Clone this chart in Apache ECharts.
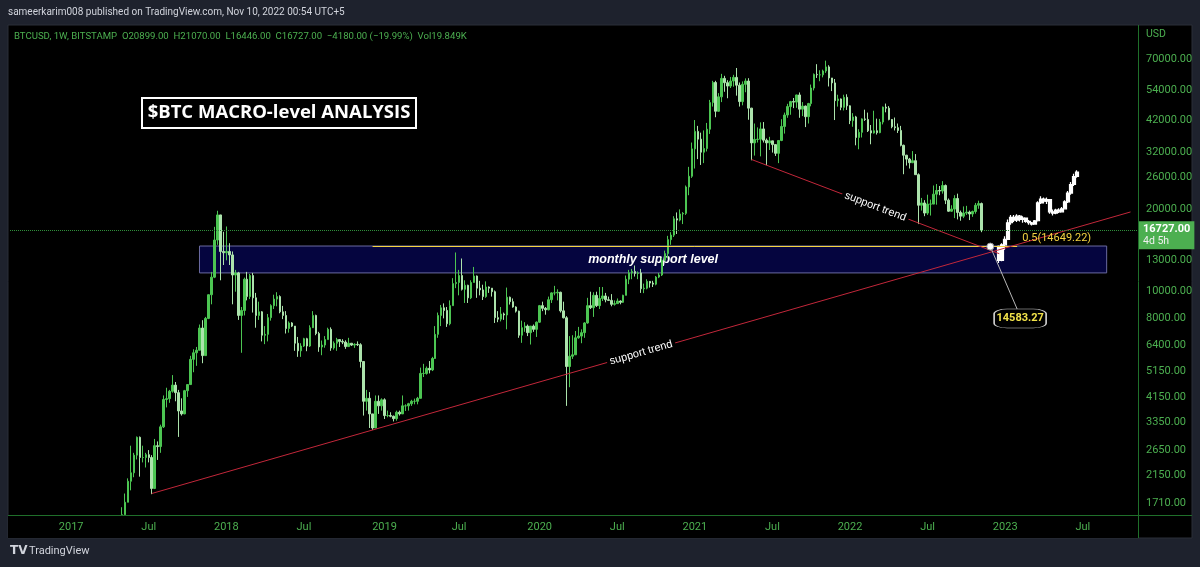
<!DOCTYPE html>
<html><head><meta charset="utf-8">
<script src="https://cdn.jsdelivr.net/npm/echarts/dist/echarts.min.js"></script>
<style>html,body{margin:0;padding:0;background:#1e222d;overflow:hidden}#c{width:1200px;height:567px}</style>
</head><body><div id="c"></div>
<script>
// ---------- axis ----------
const axisStart = '2016-08-15';
const axisWeeks = 378;
const yTicks = [70000, 54000, 42000, 32000, 26000, 20000, 13000, 10000, 8000, 6400, 5150, 4150, 3350, 2650, 2150, 1710];
const xTickDates  = ['2017-01-02','2017-07-03','2018-01-01','2018-07-02','2019-01-07','2019-07-01','2020-01-06','2020-07-06','2021-01-04','2021-07-05','2022-01-03','2022-07-04','2023-01-02','2023-07-03'];
const xTickLabels = ['2017','Jul','2018','Jul','2019','Jul','2020','Jul','2021','Jul','2022','Jul','2023','Jul'];

// ---------- weekly candles: [close, high, low]; open = previous close ----------
const firstOpen = 1250;
const w2017 = [ // from 2017-04-24
 [1340,1350,1240],[1550,1650,1340],[1720,1850,1550],[2050,2100,1720],[2200,2760,1900],[2550,2600,2120],
 [2960,2980,2460],[2500,2980,2130],[2500,2760,2400],[2560,2600,2300],[2500,2660,2400],[1930,2550,1840],
 [2760,2920,1920],[2740,2860,2450],[3230,3290,2600],[4060,4200,3200],[4090,4480,3800],[4350,4400,3950],
 [4580,4980,4300],[4300,4700,4000],[3690,4400,2970],[3600,4100,3550],[4370,4400,3590],[4600,4620,4150],
 [5680,5850,4600],[6000,6180,5100],[6130,6300,5380],[7380,7600,6130],[5860,7880,5500],[8000,8100,5860],
 [9750,9770,7950],[11290,11800,9000],[15400,17200,11200],[19000,19670,14800],[14000,18900,11000],[13850,16500,12500]];
const w2018 = [ // from 2018-01-01
 [14000,17250,13000],[13600,15000,12500],[11500,14000,9000],[11700,12000,10000],[8200,11800,7900],[8550,8800,6000],
 [11100,11250,8200],[9600,11800,9300],[11450,11600,9400],[9500,11700,8400],[8200,9900,7400],[8450,9200,7900],
 [6950,8500,6600],[7000,7500,6450],[8050,8300,6600],[8900,9000,7850],[9400,9750,8650],[9600,9960,8850],
 [8450,9700,8350],[8200,8880,7950],[7350,8500,7050],[7700,7800,7100],[7500,7750,7440],[6500,7000,6100],
 [6100,6850,5800],[6350,6500,5800],[6750,6800,6300],[6350,6800,6080],[7400,7550,6300],[8200,8500,7450],
 [7050,8250,6950],[6300,7150,6050],[6400,6650,5880],[6700,6900,6260],[7300,7400,6700],[6250,7420,6100],
 [6500,6600,6160],[6700,6800,6100],[6600,6720,6300],[6560,6720,6450],[6320,6660,6200],[6500,6800,6400],
 [6400,6500,6350],[6440,6500,6250],[6420,6600,6350],[5580,6500,5300],[4000,5600,3550],[4100,4400,3700],
 [3600,4320,3200],[3200,3600,3150],[4000,4200,3200],[3850,4200,3600]];
const w2019 = [ // from 2018-12-31
 [4050,4100,3700],[3550,4100,3450],[3550,3700,3500],[3530,3650,3500],[3460,3550,3380],[3650,3700,3400],
 [3600,3700,3550],[3850,4200,3600],[3850,3900,3690],[3920,3950,3700],[4000,4050,3850],[4000,4090,3900],
 [4100,4150,3900],[5050,5300,4100],[5050,5470,4900],[5270,5350,5000],[5200,5600,5050],[5720,5800,5150],
 [7000,7500,5700],[8200,8400,6800],[8740,8950,7500],[8550,9070,8000],[7650,8800,7450],[8900,9300,7550],
 [10700,11200,8900],[10800,13880,10300],[11450,12000,9700],[10200,13200,10100],[10550,11000,9100],[9500,10600,9100],
 [10800,11000,9400],[11400,12300,10800],[10300,11450,9500],[10150,10950,9700],[9600,10600,9330],[10400,10900,9500],
 [10300,10450,9900],[10000,10300,9600],[8050,10100,7700],[7950,8500,7750],[8300,8800,7800],[8230,8400,7900],
 [9550,10350,7300],[9200,9600,8980],[8800,9450,8750],[8500,8850,8400],[6950,8530,6800],[7400,7850,6520],
 [7500,7750,7150],[7100,7600,6900],[7500,7500,6430],[7300,7600,7150]];
const w2020 = [ // from 2019-12-30
 [7750,7800,6850],[8900,8950,7700],[8700,9200,8500],[8600,8800,8250],[9350,9600,8550],[9900,9950,9100],
 [9900,10500,9700],[9950,10200,9300],[8520,10000,8400],[8040,9200,8000],[5350,8150,3850],[5830,6900,4500],
 [5900,6950,5700],[6800,7200,5900],[6900,7450,6750],[7100,7300,6500],[7700,7750,6800],[8900,9500,7650],
 [8750,10000,8650],[9700,9950,8100],[8900,10000,8800],[9450,10400,8650],[9650,10400,9250],[9350,9900,9150],
 [9300,9600,9250],[9000,9800,8850],[9050,9300,8900],[9250,9450,9050],[9150,9300,9000],[9700,9750,9100],
 [11100,11450,9700],[11700,12000,10650],[11850,12100,11100],[11650,12450,11350],[11700,11850,11100],[10250,12100,9900],
 [10300,10700,9880],[10900,11100,10200],[10750,10850,10350],[10650,10950,10400],[11300,11400,10550],[11500,11700,11200],
 [13000,13300,11400],[13750,14100,12900],[15450,15950,13200],[16050,16450,14800],[18400,18800,15800],[18200,19400,16200],
 [19150,19900,18000],[19250,19450,17600],[24000,24300,19000],[26250,28400,22400],[33000,34800,25900]];
const w2021 = [ // from 2021-01-04
 [38200,42000,28000],[35800,40000,30300],[32100,37800,28850],[33100,38500,29300],[38900,41000,32300],[48600,49700,37400],
 [57500,58300,47000],[45200,58300,43000],[51000,52600,45000],[59500,61800,48800],[57400,60800,53200],[55800,58600,50400],
 [58200,60200,54900],[60000,61300,55500],[56200,64900,51500],[49000,57500,47000],[56600,58000,47500],[58200,59500,53000],
 [46400,59600,42100],[34700,46500,30000],[35700,40800,31200],[35800,39500,34800],[39000,41200,31000],[35500,41300,34800],
 [34700,36000,28800],[35300,36500,32700],[34200,35300,32000],[31800,34000,31100],[35400,35500,29300],[39800,42300,35200],
 [43800,44700,37500],[47000,48100,42800],[49000,49300,43900],[48800,50500,46400],[51800,51900,46500],[46000,52900,42800],
 [47200,48800,43400],[43200,47400,39600],[48200,48500,40800],[54900,56500,47100],[61500,62000,53800],[61300,67000,59700],
 [61300,63700,58100],[63300,64000,60000],[65500,69000,62300],[59700,66400,55600],[57300,59400,53500],[49400,59200,42000],
 [50100,51900,47000],[46700,50300,45600],[50800,51900,45500],[47300,52100,45700]];
const w2022 = [ // from 2022-01-03
 [41800,47500,40600],[43100,44500,39700],[36300,43500,34000],[37900,38900,32900],[42400,42600,36300],[42200,45800,41700],
 [38400,44700,38000],[37700,40300,34300],[38400,45400,37500],[37800,42500,37200],[41300,42400,37600],[46800,47000,40500],
 [46400,48200,44800],[42200,47200,41900],[39700,41500,39200],[39400,42900,38500],[38500,40800,37700],[34000,40000,33700],
 [31300,34200,26700],[30300,31400,28700],[29400,30600,28000],[29900,32400,29300],[26600,31600,26600],[20600,26900,17600],
 [21000,21900,19700],[19300,21500,18800],[20800,22500,19000],[20800,21600,18900],[22600,24300,20800],[23300,24600,20700],
 [23200,24200,22400],[24300,25200,22700],[21500,24500,20800],[19600,21800,19500],[19950,20600,19500],[21800,22400,18500],
 [19400,22700,18300],[18800,19700,18100],[19300,20400,18500],[19450,20500,19000],[19150,19700,18200],[19550,19700,18700],
 [20600,21000,19200],[20899,21400,20000],[16727,21070,16446]];
const blockStarts = ['2017-04-24','2018-01-01','2018-12-31','2019-12-30','2021-01-04','2022-01-03'];
const blocks = [w2017, w2018, w2019, w2020, w2021, w2022];

// projected path (white bars pattern): [open, close, low, high], weekly from 2022-12-19
const projStart = '2022-12-19';
const projection = [
 [14600,13000,12700,14700],[13000,14800,12900,15000],[14800,15500,14200,15900],[15500,17800,15400,18300],
 [17800,18600,17500,19000],[18600,18200,17900,19000],[18200,18800,17900,19100],[18800,18300,18000,19000],
 [18300,18500,17800,18800],[18500,18000,17800,18600],[18000,17800,17500,18200],[17800,17600,17400,17900],
 [17600,18100,17500,18200],[18100,21000,18000,21300],[21000,21700,20800,22200],[21700,21300,20900,22000],
 [21300,21600,20800,22000],[21600,19500,19200,21700],[19500,19300,18900,19900],[19300,19800,19100,20000],
 [19800,19500,19300,20100],[19500,20000,19400,20300],[20000,21200,19900,21500],[21200,22800,21000,23200],
 [22800,24500,22500,25000],[24500,26200,24200,26800],[26200,27200,25900,27600]];

// drawings
const lastPrice = 16727;
const fibLevel = 14649.22;
const supportZone = [14650, 11700];
const trendUp = [['2017-07-10', 1850], ['2023-10-23', 19480]];
const trendDown = [['2021-05-17', 30200], ['2022-12-19', 13740]];
const calloutPoint = ['2022-11-28', 14583.27];
const calloutEnd = ['2023-01-30', 8650];
const calloutBox = ['2023-02-06', 7990];

const headerText = 'sameerkarim008 published on TradingView.com, Nov 10, 2022 00:54 UTC+5';
const legendText = 'BTCUSD, 1W, BITSTAMP  O20899.00  H21070.00  L16446.00  C16727.00  \u22124180.00 (\u221219.99%)  Vol19.849K';

// ---------- build ----------
function addDays(s, d) { const t = new Date(s + 'T00:00:00Z'); t.setUTCDate(t.getUTCDate() + d); return t.toISOString().slice(0, 10); }
const categories = [];
for (let i = 0; i < axisWeeks; i++) categories.push(addDays(axisStart, 7 * i));
const idx = {}; categories.forEach((c, i) => idx[c] = i);

const candles = categories.map(() => '-');
let prevClose = firstOpen;
blocks.forEach((rows, b) => {
  const i0 = idx[blockStarts[b]];
  rows.forEach((r, j) => { candles[i0 + j] = [prevClose, r[0], r[2], r[1]]; prevClose = r[0]; });
});
const projData = categories.map(() => '-');
const p0 = idx[projStart];
projection.forEach((r, j) => { projData[p0 + j] = r; });

const green = '#4caf50';
const trendLabel = { show: true, position: 'middle', formatter: 'support trend', color: '#fff', fontSize: 11, backgroundColor: '#000',
  padding: [1, 3], distance: 0, verticalAlign: 'middle', fontFamily: 'Liberation Sans' };
const chart = echarts.init(document.getElementById('c'), null, { renderer: 'canvas' });
chart.setOption({
  backgroundColor: '#1e222d',
  animation: false,
  textStyle: { fontFamily: 'Roboto' },
  grid: { left: 10, top: 25, width: 1128, height: 490 },
  xAxis: {
    type: 'category', data: categories, boundaryGap: true, zlevel: 2,
    axisLine: { show: false }, axisTick: { show: false }, splitLine: { show: false },
    axisLabel: {
      interval: (i, v) => xTickDates.indexOf(v) >= 0,
      formatter: v => { const k = xTickDates.indexOf(v); return k >= 0 ? xTickLabels[k] : ''; },
      color: green, fontSize: 11, margin: 7
    }
  },
  yAxis: {
    type: 'log', logBase: 10, min: 1546, max: 92970, position: 'right',
    axisLine: { show: false }, axisTick: { show: false }, axisLabel: { show: false }, splitLine: { show: false }
  },
  graphic: [
    { type: 'rect', z: -100, silent: true, shape: { x: 8, y: 25, width: 1184, height: 513 }, style: { fill: '#000', stroke: '#2a2e39', lineWidth: 1 } },
    { type: 'rect', zlevel: 1, z: 1, silent: true, shape: { x: 8, y: 516, width: 1130, height: 22 }, style: { fill: '#000' } },
    { type: 'line', zlevel: 1, z: 5, silent: true, shape: { x1: 1138.5, y1: 25, x2: 1138.5, y2: 538 }, style: { stroke: '#1f6f2a', lineWidth: 1 } },
    { type: 'line', zlevel: 1, z: 5, silent: true, shape: { x1: 8, y1: 515.5, x2: 1192, y2: 515.5 }, style: { stroke: '#1f6f2a', lineWidth: 1 } },
    { type: 'text', z: 50, silent: true, left: 8, top: 7, style: { text: headerText, fill: '#d1d4dc', font: '10px Roboto' } },
    { type: 'text', z: 50, silent: true, left: 14, top: 32, style: { text: legendText, fill: green, font: '9.6px Roboto' } },
    { type: 'text', z: 50, silent: true, left: 1146, top: 29, style: { text: 'USD', fill: green, font: '10.5px Roboto' } },
    { type: 'group', z: 60, left: 141, top: 97, children: [
      { type: 'rect', shape: { x: 0, y: 0, width: 274, height: 30 }, style: { fill: '#000', stroke: '#fff', lineWidth: 2 } },
      { type: 'text', style: { text: '$BTC MACRO-level ANALYSIS', x: 137, y: 15, textAlign: 'center', textVerticalAlign: 'middle', fill: '#fff', font: 'bold 18.5px "Open Sans"' } }
    ]},
    { type: 'text', z: 50, silent: true, left: 10, top: 545, style: { text: 'TV', fill: '#d1d4dc', font: 'bold 12px "DejaVu Sans"' } },
    { type: 'text', z: 50, silent: true, left: 29, top: 546, style: { text: 'TradingView', fill: '#d1d4dc', font: '11px Roboto' } }
  ],
  series: [
    { // drawings under the candles
      type: 'line', data: [], z: 1, silent: true,
      markArea: {
        silent: true,
        itemStyle: { color: '#05053f', borderColor: '#6a6aa0', borderWidth: 1 },
        label: { show: true, position: 'inside', color: '#fff', fontStyle: 'italic', fontWeight: 'bold', fontSize: 12.5, fontFamily: 'Liberation Sans' },
        data: [[{ name: 'monthly support level', coord: ['2017-10-30', supportZone[0]] }, { coord: ['2023-08-28', supportZone[1]] }]]
      },
      markLine: {
        silent: true, symbol: ['none', 'none'], animation: false,
        data: [
          [{ coord: ['2018-12-10', fibLevel], lineStyle: { color: '#f5d442', width: 1, type: 'solid' },
             label: { show: true, position: 'end', formatter: '0.5(14649.22)', color: '#f5d442', fontSize: 11, distance: 5, offset: [0, -8] } },
           { coord: ['2023-01-30', fibLevel] }]
        ]
      }
    },
    {
      type: 'candlestick', data: candles, z: 3, barWidth: 2, clip: true,
      itemStyle: { color: '#4cc552', color0: '#ace3ac', borderColor: '#4cc552', borderColor0: '#ace3ac', borderWidth: 1 }
    },
    {
      type: 'candlestick', data: projData, z: 4, barWidth: 3, clip: true,
      itemStyle: { color: '#ffffff', color0: '#ffffff', borderColor: '#ffffff', borderColor0: '#ffffff', borderWidth: 1.2 }
    },
    { // trend lines, callout, price axis labels
      type: 'line', data: [], z: 5, silent: true,
      markLine: {
        silent: true, symbol: ['none', 'none'], animation: false,
        data: [
          [{ coord: trendUp[0], lineStyle: { color: '#c2273a', width: 1, type: 'solid' }, label: trendLabel }, { coord: trendUp[1] }],
          [{ coord: trendDown[0], lineStyle: { color: '#c2273a', width: 1, type: 'solid' }, label: trendLabel }, { coord: trendDown[1] }],
          [{ coord: calloutPoint, lineStyle: { color: '#b8b8b8', width: 1, type: 'solid' }, label: { show: false } },
           { coord: calloutEnd }],
          { yAxis: lastPrice, lineStyle: { color: '#2f8f3a', width: 1, type: 'dotted' },
            label: { show: true, position: 'end', distance: 1, offset: [0, 5], backgroundColor: green, padding: [2, 4, 2, 4],
              formatter: '{a|16727.00}\n{b|4d 5h}', rich: { a: { color: '#fff', fontSize: 11, fontWeight: 'bold', lineHeight: 12 }, b: { color: '#f0f0f0', fontSize: 10.5, lineHeight: 12 } } } }
        ].concat(yTicks.map(v => ({ yAxis: v, lineStyle: { color: 'rgba(0,0,0,0)', width: 0 },
            label: { show: true, position: 'end', distance: 8, formatter: v.toFixed(2), color: green, fontSize: 11 } })))
      },
      markPoint: {
        silent: true, animation: false,
        data: [
          { coord: calloutPoint, symbol: 'circle', symbolSize: 7, itemStyle: { color: '#fff', borderColor: '#999', borderWidth: 1 }, label: { show: false } },
          { coord: calloutBox, symbol: 'roundRect', symbolSize: [52, 19], itemStyle: { color: '#000', borderColor: '#cfcfcf', borderWidth: 1 },
            label: { show: true, position: 'inside', formatter: '14583.27', color: '#f2e34a', fontSize: 11, fontWeight: 'bold' } }
        ]
      }
    }
  ]
});
</script></body></html>
